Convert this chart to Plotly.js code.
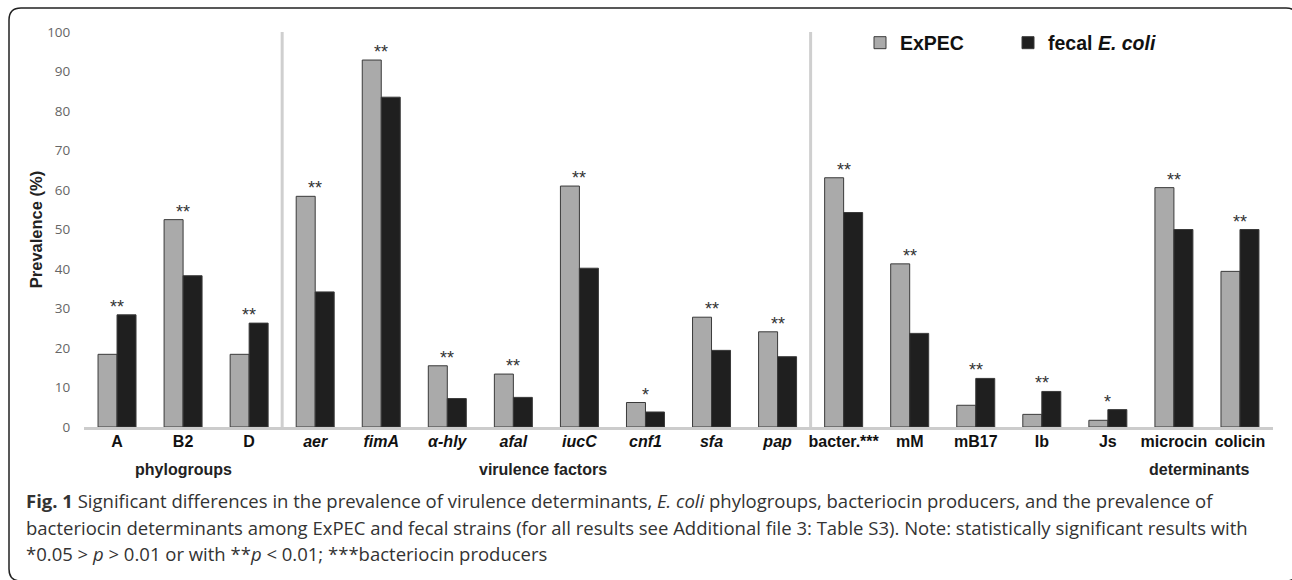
<!DOCTYPE html>
<html><head><meta charset="utf-8">
<script src="https://cdn.plot.ly/plotly-3.0.1.min.js"></script>
<style>html,body{margin:0;padding:0;background:#fff}#chart{width:1292px;height:580px}</style>
</head><body><div id="chart"></div>
<script>
const categories = ['A','B2','D','aer','fimA','α-hly','afal','iucC','cnf1','sfa','pap','bacter.***','mM','mB17','Ib','Js','microcin','colicin'];
const italicCategories = ['aer','fimA','α-hly','afal','iucC','cnf1','sfa','pap'];
const expec = [18.4,52.5,18.4,58.4,92.9,15.5,13.4,61.0,6.2,27.8,24.1,63.1,41.3,5.5,3.2,1.7,60.6,39.4];
const fecal = [28.4,38.3,26.3,34.2,83.5,7.2,7.5,40.2,3.8,19.4,17.8,54.3,23.7,12.3,9.0,4.4,50.0,50.0];
const significance = ['**','**','**','**','**','**','**','**','*','**','**','**','**','**','**','*','**','**'];
const groupLabels = ['phylogroups','virulence factors','determinants'];
const seriesNames = ['ExPEC','fecal <i>E. coli</i>'];
const captionLines = [
  '<b>Fig. 1</b> Significant differences in the prevalence of virulence determinants, <i>E. coli</i> phylogroups, bacteriocin producers, and the prevalence of',
  'bacteriocin determinants among ExPEC and fecal strains (for all results see Additional file 3: Table S3). Note: statistically significant results with',
  '*0.05 &gt; <i>p</i> &gt; 0.01 or with **<i>p</i> &lt; 0.01; ***bacteriocin producers'
];

const W = 1292, H = 580;
const mL = 84, mR = 19, mT = 32, mB = 153;
const pw = W - mL - mR, ph = H - mT - mB;
const px = x => (x - mL) / pw;
const py = y => (H - mB - y) / ph;

const tickText = categories.map(c => italicCategories.includes(c) ? '<i>' + c + '</i>' : c);

const traces = [
  {type:'bar', name: seriesNames[0], x: categories, y: expec,
   marker:{color:'#aaaaaa', line:{color:'#3a3a3a', width:1}}},
  {type:'bar', name: seriesNames[1], x: categories, y: fecal,
   marker:{color:'#1f1f1f', line:{color:'#3a3a3a', width:1}}}
];

const annotations = [];
categories.forEach((c, i) => {
  annotations.push({x: c, y: Math.max(expec[i], fecal[i]), xref:'x', yref:'y',
    text: significance[i], showarrow:false, yanchor:'bottom', yshift:-4,
    font:{family:'Liberation Sans, Arial', size:18, color:'#333'}});
});
const groupX = [1, 6.45, 16.38];
groupLabels.forEach((g, i) => {
  annotations.push({x: groupX[i], y: py(470), xref:'x', yref:'paper', text: g,
    showarrow:false, yanchor:'middle', font:{family:'Liberation Sans, Arial', size:16, color:'#222', weight:'bold'}});
});
const captionY = [500, 527, 553];
captionLines.forEach((t, i) => {
  annotations.push({x: px(24), y: py(captionY[i]), xref:'paper', yref:'paper', text: t,
    showarrow:false, xanchor:'left', yanchor:'middle', align:'left',
    font:{family:'Open Sans, sans-serif', size:18.5, color:'#333'}});
});

const shapes = [2.5, 10.5].map(s => ({type:'line', xref:'x', yref:'y', x0:s, x1:s, y0:0, y1:101.8,
  line:{color:'#cfcfcf', width:3}}));

// rounded frame
const fl = px(9), fr = px(1298), ft = py(8), fb = py(581);
const rx = 12 / pw, ry = 12 / ph;
shapes.push({type:'path', xref:'paper', yref:'paper', layer:'above',
  path: `M${fl+rx},${ft} L${fr-rx},${ft} Q${fr},${ft} ${fr},${ft-ry} L${fr},${fb+ry} Q${fr},${fb} ${fr-rx},${fb} L${fl+rx},${fb} Q${fl},${fb} ${fl},${fb+ry} L${fl},${ft-ry} Q${fl},${ft} ${fl+rx},${ft} Z`,
  line:{color:'#222', width:1.5}});

const layout = {
  width: W, height: H,
  margin:{l:mL, r:mR, t:mT, b:mB},
  paper_bgcolor:'#fff', plot_bgcolor:'#fff',
  barmode:'group', bargap:0.425, bargroupgap:0,
  showlegend:true,
  legend:{orientation:'h', x:px(860), xanchor:'left', y:py(43), yanchor:'middle',
    font:{family:'Liberation Sans, Arial', size:19.5, color:'#111', weight:'bold'},
    entrywidth:103, entrywidthmode:'pixels', bgcolor:'rgba(0,0,0,0)'},
  xaxis:{type:'category', range:[-0.5, 17.5], tickvals: categories, ticktext: tickText,
    showline:true, linecolor:'#cccccc', linewidth:3, showgrid:false, zeroline:false,
    ticks:'', ticklabelstandoff:-2,
    tickfont:{family:'Liberation Sans, Arial', size:16, color:'#111', weight:'bold'}},
  yaxis:{range:[0,100], dtick:10, tick0:0, showgrid:false, zeroline:false, showline:false,
    ticks:'outside', ticklen:10, tickcolor:'rgba(0,0,0,0)',
    tickfont:{family:'Open Sans, sans-serif', size:13.5, color:'#666'},
    title:{text:'Prevalence (%)', standoff:0, font:{family:'Liberation Sans, Arial', size:16.5, color:'#222', weight:'bold'}}},
  annotations, shapes
};

Plotly.newPlot('chart', traces, layout, {staticPlot:true, displayModeBar:false});
</script></body></html>
